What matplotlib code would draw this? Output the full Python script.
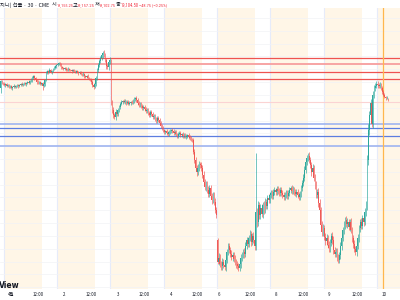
import matplotlib
matplotlib.use('Agg')
import matplotlib.pyplot as plt
from matplotlib import font_manager

# ---------------- data (30-min bars, NQ futures) ----------------
first_open = 19305
closes = [
    19415, 19385, 19370, 19355, 19370, 19340, 19355, 19325, 19340, 19305,
    19325, 19340, 19325, 19340, 19355, 19340, 19355, 19370, 19355, 19370,
    19385, 19370, 19385, 19400, 19385, 19415, 19430, 19465, 19495, 19465,
    19430, 19400, 19385, 19400, 19370, 19385, 19340, 19370, 19430, 19540,
    19570, 19555, 19590, 19555, 19570, 19605, 19620, 19650, 19665, 19680,
    19695, 19665, 19635, 19620, 19605, 19620, 19605, 19590, 19605, 19590,
    19585, 19570, 19590, 19570, 19555, 19570, 19555, 19540, 19555, 19525,
    19510, 19525, 19495, 19480, 19495, 19465, 19450, 19430, 19400, 19355,
    19325, 19370, 19465, 19590, 19665, 19730, 19775, 19820, 19855, 19820,
    19745, 19650, 19635, 19715, 19745, 19075, 18965, 18885, 18855, 18935,
    18900, 18965, 19010, 19060, 19090, 19105, 19090, 19105, 19075, 19090,
    19060, 19075, 19090, 19075, 19105, 19135, 19150, 19120, 19075, 19040,
    19060, 19025, 18995, 19010, 18980, 18950, 18965, 18915, 18885, 18935,
    18900, 18855, 18870, 18825, 18790, 18840, 18810, 18760, 18715, 18685,
    18650, 18620, 18635, 18605, 18590, 18620, 18635, 18650, 18635, 18605,
    18620, 18590, 18560, 18590, 18605, 18575, 18590, 18560, 18575, 18545,
    18560, 18575, 18545, 18525, 18510, 18495, 18310, 18185, 18060, 17995,
    18060, 18120, 18105, 18060, 17950, 17840, 17765, 17810, 17715, 17655,
    17745, 17620, 17560, 17640, 17530, 17405, 17325, 16595, 16655, 16560,
    16530, 16595, 16545, 16515, 16625, 16750, 16840, 16780, 16720, 16670,
    16700, 16640, 16595, 16560, 16530, 16500, 16560, 16655, 16700, 16750,
    16720, 16840, 16935, 16875, 16965, 17030, 16905, 17000, 16935, 16840,
    17375, 17215, 17480, 17325, 17435, 17340, 17480, 17405, 17530, 17465,
    17590, 17560, 17640, 17670, 17620, 17685, 17715, 17685, 17730, 17700,
    17670, 17715, 17670, 17640, 17605, 17640, 17670, 17620, 17670, 17715,
    17745, 17700, 17730, 17685, 17655, 17685, 17640, 17605, 17655, 17745,
    17825, 17905, 18030, 18155, 18215, 18245, 18185, 18105, 17995, 18060,
    17905, 17795, 17640, 17685, 17515, 17405, 17170, 17060, 17125, 16985,
    16920, 16965, 16860, 16810, 16890, 17000, 16935, 16780, 16720, 16750,
    16670, 16625, 16700, 16840, 16965, 17090, 17170, 17250, 17185, 17215,
    17140, 17215, 17090, 16965, 16875, 16795, 16750, 16840, 16965, 17125,
    17215, 17155, 17280, 17215, 17375, 17480, 18185, 18650, 18885, 19075,
    18745, 19200, 19305, 19340, 19370, 19355, 19340, 19355, 19305, 19245,
    19200, 19165, 19150, 19155.25, 19104.5,
]
upper_wicks = [
    15, 20, 10, 25, 15, 20, 10, 15, 20, 10, 15, 25, 10, 20, 15, 10, 20, 15, 25, 10,
    15, 20, 10, 15, 25, 20, 30, 35, 20, 15, 20, 10, 25, 15, 20, 10, 15, 20, 25, 30,
    20, 15, 25, 20, 15, 20, 25, 15, 20, 25,
    15, 20, 25, 15, 20, 10, 15, 20, 25, 15, 20, 15, 10, 20, 15, 25, 20, 15, 10, 20,
    15, 25, 20, 15, 20, 25, 15, 20, 30, 25, 35, 40, 30, 35, 30, 25, 30, 35, 30, 40,
    35, 30, 25, 30, 40, 20, 50, 40, 35, 45,
    30, 35, 25, 30, 25, 20, 25, 30, 20, 25, 30, 25, 20, 25, 30, 25, 20, 30, 25, 30,
    25, 30, 35, 25, 30, 25, 30, 35, 30, 25, 30, 35, 25, 30, 35, 30, 25, 30, 35, 25,
    30, 25, 20, 30, 25, 30, 35, 25, 30, 25,
    25, 30, 20, 25, 30, 25, 20, 30, 25, 30, 25, 20, 30, 25, 30, 25, 40, 45, 50, 40,
    55, 45, 40, 50, 45, 55, 40, 50, 45, 60, 50, 45, 55, 40, 50, 60, 45, 40, 80, 60,
    50, 55, 45, 60, 50, 40, 55, 45, 50, 60,
    50, 45, 55, 40, 50, 45, 60, 55, 50, 45, 55, 60, 50, 45, 55, 60, 50, 45, 55, 40,
    920, 60, 70, 55, 65, 60, 55, 70, 60, 50, 55, 60, 45, 50, 40, 45, 50, 40, 45, 50,
    40, 45, 50, 40, 45, 50, 45, 40, 50, 45,
    40, 45, 50, 40, 45, 40, 50, 45, 40, 50, 45, 55, 60, 50, 45, 55, 60, 50, 55, 60,
    50, 55, 60, 50, 55, 60, 50, 55, 60, 50, 55, 60, 50, 55, 60, 50, 55, 60, 50, 55,
    60, 50, 55, 60, 50, 55, 60, 50, 55, 60,
    50, 55, 60, 50, 55, 60, 50, 55, 60, 50, 55, 60, 50, 55, 60, 70, 80, 90, 70, 60,
    40, 60, 50, 40, 45, 40, 35, 40, 35, 30, 30, 25, 20, 20, 2,
]
lower_wicks = [
    75, 15, 20, 10, 25, 15, 20, 10, 15, 20, 25, 10, 15, 20, 10, 25, 15, 20, 10, 15,
    20, 15, 25, 10, 15, 20, 15, 25, 20, 30, 15, 25, 20, 10, 15, 20, 65, 20, 25, 20,
    15, 25, 20, 15, 25, 20, 15, 20, 25, 15,
    20, 15, 25, 20, 15, 20, 25, 15, 20, 15, 20, 25, 15, 20, 15, 20, 15, 25, 20, 15,
    20, 15, 25, 20, 15, 20, 25, 20, 30, 25, 30, 25, 35, 30, 40, 25, 30, 35, 40, 30,
    35, 40, 35, 45, 30, 40, 50, 45, 30, 40,
    35, 30, 25, 30, 25, 30, 20, 25, 30, 25, 20, 25, 30, 25, 20, 25, 30, 25, 30, 25,
    30, 25, 30, 35, 25, 30, 35, 25, 30, 35, 30, 25, 35, 30, 25, 30, 35, 30, 25, 30,
    25, 30, 35, 25, 30, 25, 30, 35, 25, 30,
    30, 25, 30, 25, 20, 30, 25, 30, 25, 20, 30, 25, 30, 25, 30, 25, 40, 50, 45, 55,
    40, 50, 45, 55, 40, 50, 45, 60, 50, 45, 55, 40, 60, 50, 45, 55, 40, 30, 50, 45,
    60, 55, 40, 50, 60, 45, 55, 40, 50, 45,
    55, 45, 50, 60, 45, 50, 40, 55, 50, 45, 60, 50, 45, 55, 50, 45, 60, 50, 45, 55,
    60, 70, 55, 65, 60, 50, 55, 60, 50, 45, 50, 45, 40, 50, 45, 40, 50, 45, 40, 50,
    45, 40, 50, 45, 40, 50, 45, 40, 45, 50,
    45, 40, 50, 45, 40, 50, 45, 40, 50, 45, 40, 50, 45, 55, 50, 45, 55, 50, 60, 55,
    50, 60, 55, 50, 60, 55, 50, 60, 55, 50, 60, 55, 50, 60, 55, 50, 60, 70, 55, 50,
    60, 55, 50, 60, 55, 50, 60, 55, 50, 60,
    55, 60, 50, 55, 60, 50, 55, 60, 50, 55, 60, 50, 55, 60, 50, 60, 70, 80, 70, 60,
    50, 60, 45, 40, 35, 40, 35, 30, 35, 30, 25, 20, 25, 20, 1.75,
]
gap_bar = 187            # Sunday re-open bar
gap_open = 16935

red_levels = [19770, 19552, 19443]
pink_levels = [19677]
faint_levels = [19089]
blue_levels = [18679, 18563]
lightblue_levels = [18746, 18402]

day_labels = ['4월', '12:00', '2', '12:00', '3', '12:00', '4', '12:00', '6',
              '12:00', '8', '12:00', '9', '12:00', '10']

header_parts = [
    ('지니) 선물 · 30 · CME', '#131722'), ('시', '#131722'), ('19,155.25', '#f23645'),
    ('고', '#131722'), ('19,157.25', '#f23645'), ('저', '#131722'), ('19,102.75', '#f23645'),
    ('종', '#131722'), ('19,104.50', '#f23645'), ('−48.75 (−0.25%)', '#f23645'),
]

# ---------------- derived ----------------
n = len(closes)
opens = [first_open] + closes[:-1]
opens[gap_bar] = gap_open
opens[-1] = 19155.25
highs = [max(o, c) + u for o, c, u in zip(opens, closes, upper_wicks)]
lows = [min(o, c) - d for o, c, d in zip(opens, closes, lower_wicks)]

UP = '#26a69a'
DN = '#ef5350'

plt.rcParams['font.family'] = ['Noto Sans CJK KR', 'DejaVu Sans']

# a narrow Latin face for the header numbers if one is installed
avail = {f.name for f in font_manager.fontManager.ttflist}
narrow = None
for cand in ['Liberation Sans Narrow', 'DejaVu Sans Condensed', 'Roboto Condensed']:
    if cand in avail:
        narrow = cand
        break

fig = plt.figure(figsize=(4, 3), dpi=100)
fig.patch.set_facecolor('white')
top_px, bot_px = 8, 289
ax = fig.add_axes([0, 1 - bot_px / 300, 1, (bot_px - top_px) / 300])
ax.set_facecolor('white')

xmin, xmax = -0.69, 344.4
ax.set_xlim(xmin, xmax)
ax.set_ylim(16171.6, 20555.2)

# session shading and separators
session_starts = [2.5 + 46 * k for k in range(8)]
for s in session_starts:
    ax.axvspan(s + 1.0, s + 32.8, color='#fff3e0', alpha=0.75, lw=0, zorder=0)
    ax.axvline(s, color='#e6ebfa', lw=0.8, zorder=0.5)

# grid
for p in range(16200, 20600, 200):
    ax.axhline(p, color='#f2f3f6', lw=0.5, zorder=0.6)

# level lines
for p in red_levels:
    ax.axhline(p, color='#ef5350', lw=0.9, zorder=1)
for p in pink_levels:
    ax.axhline(p, color='#f7a4a4', lw=1.4, zorder=1)
for p in faint_levels:
    ax.axhline(p, color='#fbd3d3', lw=0.8, zorder=1)
for p in blue_levels:
    ax.axhline(p, color='#5c7de0', lw=0.9, zorder=1)
for p in lightblue_levels:
    ax.axhline(p, color='#9fb4f0', lw=1.2, zorder=1)

# current-bar marker
ax.axvline(329.8, color='#ffb74d', lw=0.9, zorder=1.5)

# candles
xs = list(range(n))
cols = [UP if c >= o else DN for o, c in zip(opens, closes)]
ax.vlines(xs, lows, highs, colors=cols, lw=0.5, alpha=0.9, zorder=2)
ax.bar(xs, [c - o if c != o else 3 for o, c in zip(opens, closes)], bottom=opens,
       width=0.65, color=cols, lw=0, alpha=0.95, zorder=3)

# axis formatting
tick_pos = [9.4, 31.8, 54.5, 77.6, 100.8, 123.8, 146.6, 169.0, 188.3, 215.3,
            237.4, 260.8, 283.2, 307.5, 330.8]
ax.set_xticks(tick_pos)
ax.set_xticklabels(day_labels, fontsize=3.2, color='#131722')
ax.tick_params(axis='x', length=0, pad=2.3)
ax.set_yticks([])
for sp in ax.spines.values():
    sp.set_visible(False)

# header: each piece placed at its left edge, shrunk only if it would collide
renderer = fig.canvas.get_renderer()
hx = [0, 51.5, 56.5, 72.5, 77, 94.5, 99, 115.5, 120.5, 139]
hw = [52, 5, 16.5, 5, 17.5, 5, 17, 5, 18, 28]
for i, ((txt, c), x, w) in enumerate(zip(header_parts, hx, hw)):
    kw = {}
    is_num = txt[0].isdigit() or txt[0] == '−'
    if is_num and narrow:
        kw['family'] = [narrow, 'DejaVu Sans']
    fs = 3.8
    t = fig.text(x / 400, 1 - 5 / 300, txt, color=c, fontsize=fs, va='center', ha='left', **kw)
    bb = t.get_window_extent(renderer)
    if bb.width > w:
        t.set_fontsize(max(fs * w / bb.width, 2.9))

fig.text(-1 / 400, 1 - 285 / 300, 'View', fontsize=5.5, fontweight='bold',
         color='#131722', va='center', ha='left', family='DejaVu Sans')

fig.savefig('out.png', dpi=100)
